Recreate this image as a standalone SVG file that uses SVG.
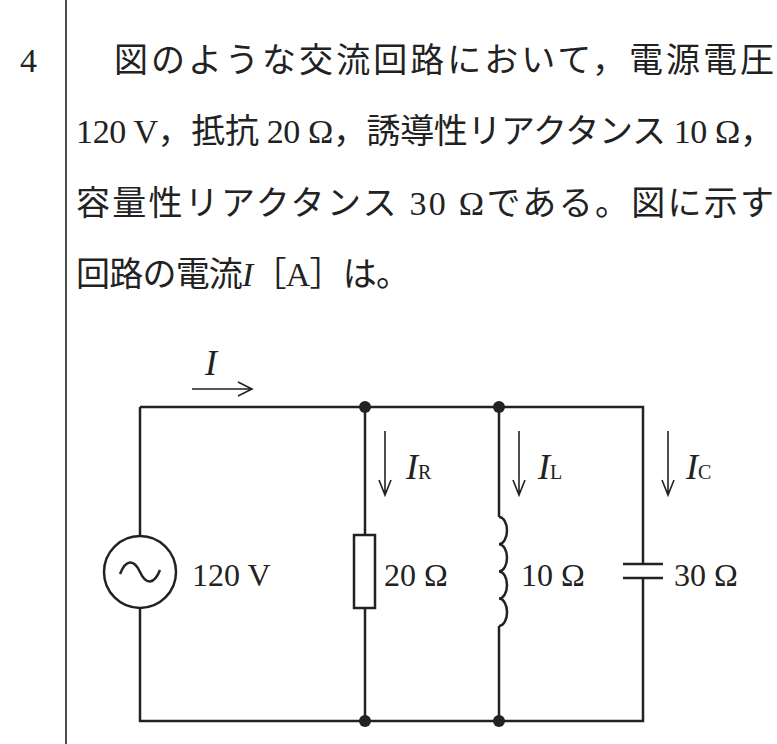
<svg xmlns="http://www.w3.org/2000/svg" width="777" height="744" viewBox="0 0 777 744">
<style>
.t{font-family:"Liberation Serif","Noto Sans CJK JP",serif;font-size:34px;fill:#222}
.c{font-family:"Liberation Serif",serif;font-size:32px;fill:#222}
.i{font-family:"Liberation Serif",serif;font-size:36px;font-style:italic;fill:#222}
.w{stroke:#222;stroke-width:2.5;fill:none}
.a{stroke:#222;stroke-width:1.6;fill:none}
</style>
<rect width="777" height="744" fill="#fff"/>
<line x1="66" y1="0" x2="66" y2="744" class="a"/>
<g id="text">
<text x="20" y="72" class="t">4</text>
<text x="114" y="72" class="t" textLength="660" lengthAdjust="spacing">図のような交流回路において，電源電圧</text>
<text x="76" y="143" class="t" textLength="698" lengthAdjust="spacing">120 V，抵抗 20 Ω，誘導性リアクタンス 10 Ω，</text>
<text x="76" y="215" class="t" textLength="698" lengthAdjust="spacing">容量性リアクタンス 30 Ωである。図に示す</text>
<text x="76" y="286" class="t" textLength="334" lengthAdjust="spacing">回路の電流<tspan font-style="italic">I</tspan>［A］は。</text>
</g>
<g id="connectors">
<path class="w" d="M140 407H643V564M643 578V721H140V608M140 536V407M365 407V535M365 608V721M499 407V517M499 626V721M623 564H663M623 578H663"/>
</g>
<g id="source"><circle cx="140" cy="572" r="36" class="w"/><path class="w" d="M120 574c6-15 14-15 20-2s14 13 20-2"/><text x="192" y="586" class="c">120 V</text></g>
<g id="R"><rect x="354" y="535" width="21" height="73" class="w"/><text x="384" y="586" class="c">20 Ω</text></g>
<g id="L"><path class="w" d="M499 517a8 13.6 0 0 1 0 27.2a8 13.6 0 0 1 0 27.2a8 13.6 0 0 1 0 27.2a8 13.6 0 0 1 0 27.4"/><text x="521" y="586" class="c">10 Ω</text></g>
<g id="C"><text x="674" y="586" class="c">30 Ω</text></g>
<g id="dots" fill="#222"><circle cx="365" cy="407" r="6"/><circle cx="499" cy="407" r="6"/><circle cx="365" cy="721" r="6"/><circle cx="499" cy="721" r="6"/></g>
<g id="arrows">
<path class="a" d="M192 389H252M238 382L252 389L238 396"/>
<text x="205" y="375" class="i">I</text>
<path class="a" d="M385 431V495M379 480L385 495L391 480"/>
<text x="406" y="479" class="i">I<tspan font-size="20" font-style="normal">R</tspan></text>
<path class="a" d="M519 431V495M513 480L519 495L525 480"/>
<text x="538" y="479" class="i">I<tspan font-size="20" font-style="normal">L</tspan></text>
<path class="a" d="M668 431V495M662 480L668 495L674 480"/>
<text x="686" y="479" class="i">I<tspan font-size="20" font-style="normal">C</tspan></text>
</g>
</svg>
